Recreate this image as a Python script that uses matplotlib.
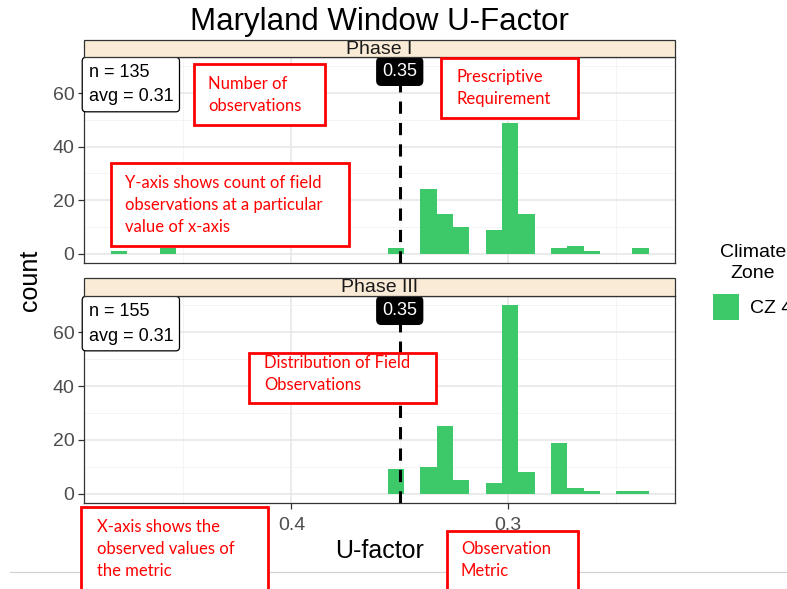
import matplotlib
matplotlib.use("Agg")
import matplotlib.pyplot as plt
from matplotlib.patches import Rectangle

# histogram bins (U-factor bin centres) and counts per phase
u_bins = [0.4797, 0.4571, 0.3517, 0.3367, 0.3291, 0.3216, 0.3065,
          0.2990, 0.2915, 0.2764, 0.2689, 0.2614, 0.2463, 0.2388]
phase1_counts = [1, 2, 2, 24, 15, 10, 9, 49, 15, 2, 3, 1, 0, 2]
phase3_counts = [0, 0, 9, 10, 25, 5, 4, 70, 8, 19, 2, 1, 1, 1]
phases = ["Phase I", "Phase III"]
n_obs = [135, 155]
avg_u = [0.31, 0.31]
requirement = 0.35

W, H = 787, 589
GREEN = "#3DC86A"
SANS = "Liberation Sans"
CALLOUT = "Lato"


def fx(x):
    return x / W


def fy(y):
    return 1 - y / H


fig = plt.figure(figsize=(W / 100, H / 100), dpi=100)

panels = [(57, 263), (296, 503)]
strips = [(40, 57), (278, 296)]
left, right = 84, 675
counts_all = [phase1_counts, phase3_counts]

for i, (top, bot) in enumerate(panels):
    ax = fig.add_axes([fx(left), fy(bot), fx(right) - fx(left), (bot - top) / H])
    ax.bar(u_bins, counts_all[i], width=0.00753, color=GREEN, zorder=2)
    ax.set_xlim(0.4958, 0.2229)
    ax.set_ylim(-3.5, 73.5)
    ax.set_xticks([0.4, 0.3])
    ax.set_xticks([0.45, 0.35, 0.25], minor=True)
    ax.set_yticks([0, 20, 40, 60])
    ax.set_yticks([10, 30, 50, 70], minor=True)
    ax.grid(which="major", color="#E6E6E6", lw=1.1, zorder=0)
    ax.grid(which="minor", color="#F2F2F2", lw=0.6, zorder=0)
    ax.set_axisbelow(True)
    for s in ax.spines.values():
        s.set_color("#333333")
        s.set_linewidth(0.9)
    ax.tick_params(which="minor", length=0)
    ax.tick_params(axis="y", labelsize=14, labelcolor="#4D4D4D", color="#333333",
                   length=4, width=0.9, pad=3)
    ax.tick_params(axis="x", labelsize=14, labelcolor="#4D4D4D", color="#333333",
                   length=4, width=0.9, pad=6)
    for lab in ax.get_yticklabels() + ax.get_xticklabels():
        lab.set_family(SANS)
    if i == 0:
        ax.tick_params(axis="x", labelbottom=False, length=0)
    ax.axvline(requirement, color="black", lw=2.2, ls=(0, (4, 3)), zorder=3)
    ax.text(requirement, 73.5 - 2.2, "%.2f" % requirement, ha="center", va="top",
            color="white", fontsize=13, family=SANS, zorder=5,
            bbox=dict(boxstyle="round,pad=0.3,rounding_size=0.25",
                      fc="black", ec="black"))
    ax.text(0.4937, 71.0, "n = %d\navg = %.2f" % (n_obs[i], avg_u[i]), ha="left",
            va="top", fontsize=13, family=SANS, linespacing=1.6, zorder=5,
            bbox=dict(boxstyle="round,pad=0.35,rounding_size=0.2",
                      fc="white", ec="black", lw=0.9))

    # facet strip
    st, sb = strips[i]
    fig.patches.append(Rectangle((fx(left), fy(sb)), fx(right) - fx(left),
                                 (sb - st) / H, transform=fig.transFigure,
                                 fc="#FAEBD7", ec="#333333", lw=0.9, zorder=0.5))
    fig.text(fx((left + right) / 2), fy((st + sb) / 2 + 0.5), phases[i],
             ha="center", va="center", fontsize=14, family=SANS, color="#1A1A1A")

fig.text(fx(379.5), fy(22), "Maryland Window U-Factor", ha="center", va="center",
         fontsize=22.5, family=SANS)
fig.text(fx(379.5), fy(551), "U-factor", ha="center", va="center",
         fontsize=18, family=SANS)
fig.text(fx(30), fy(280), "count", ha="center", va="center", rotation=90,
         fontsize=18, family=SANS)

# legend
fig.text(fx(753), fy(253), "Climate", ha="center", va="center", fontsize=14, family=SANS)
fig.text(fx(753), fy(273), "Zone", ha="center", va="center", fontsize=14, family=SANS)
fig.patches.append(Rectangle((fx(713), fy(320)), 26 / W, 26 / H,
                             transform=fig.transFigure, fc=GREEN, ec="none"))
fig.text(fx(750), fy(308), "CZ 4", ha="left", va="center", fontsize=14, family=SANS)

# slide separator line
fig.add_artist(plt.Line2D([fx(10), fx(787)], [fy(572), fy(572)],
                          transform=fig.transFigure, color="#D0D0D0", lw=0.8, zorder=1))

# red callout boxes
callouts = [
    ((194, 64, 325, 125), (208, 84), ["Number of", "observations"]),
    ((441, 58, 578, 118), (456, 77), ["Prescriptive", "Requirement"]),
    ((111, 163, 349, 246), (125, 183), ["Y-axis shows count of field",
                                       "observations at a particular",
                                       "value of x-axis"]),
    ((249, 353, 436, 403), (264, 363), ["Distribution of Field", "Observations"]),
    ((81, 507, 268, 610), (97, 527), ["X-axis shows the", "observed values of",
                                      "the metric"]),
    ((447, 531, 578, 610), (461, 549), ["Observation", "Metric"]),
]
for (x0, y0, x1, y1), (tx, ty), lines in callouts:
    fig.patches.append(Rectangle((fx(x0), fy(y1)), (x1 - x0) / W, (y1 - y0) / H,
                                 transform=fig.transFigure, fc="white", ec="#FF0000",
                                 lw=2.0, zorder=2))
    for k, line in enumerate(lines):
        fig.text(fx(tx), fy(ty + 22 * k), line, ha="left", va="center",
                 fontsize=12, family=CALLOUT, color="#FF0000", zorder=3)

fig.savefig("out.png", dpi=100)
